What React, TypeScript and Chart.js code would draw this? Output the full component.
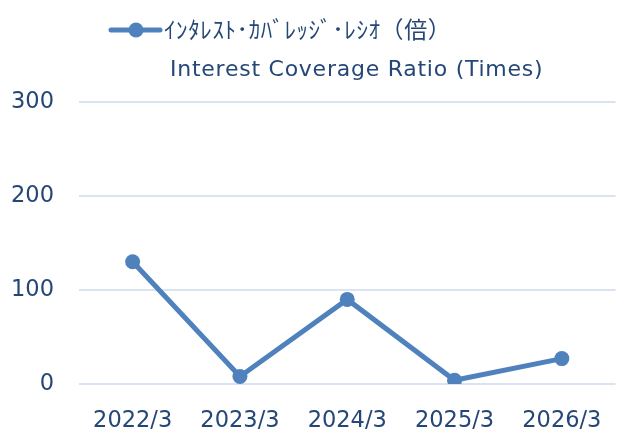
import React, { useEffect, useRef } from "react";
import { Chart, registerables } from "chart.js";
Chart.register(...registerables);

const categories = ["2022/3", "2023/3", "2024/3", "2025/3", "2026/3"];
const ratioValues = [130, 8, 90, 4, 27];
const yMin = 0;
const yMax = 300;
const yStep = 100;
const seriesLabel = "ｲﾝﾀﾚｽﾄ･ｶﾊﾞﾚｯｼﾞ･ﾚｼｵ（倍）";
const subtitleText = "Interest Coverage Ratio (Times)";

const LINE_COLOR = "#4F81BD";
const TEXT_COLOR = "#254777";
const GRID_COLOR = "#D9E3F2";

const headerPlugin = {
  id: "header",
  afterDraw(chart: any) {
    const ctx = chart.ctx;
    ctx.save();
    // legend marker
    ctx.strokeStyle = LINE_COLOR;
    ctx.lineWidth = 5;
    ctx.lineCap = "round";
    ctx.beginPath();
    ctx.moveTo(111, 30);
    ctx.lineTo(160, 30);
    ctx.stroke();
    ctx.fillStyle = LINE_COLOR;
    ctx.beginPath();
    ctx.arc(136, 30, 7.5, 0, Math.PI * 2);
    ctx.fill();
    // legend text
    ctx.fillStyle = TEXT_COLOR;
    ctx.textBaseline = "middle";
    ctx.textAlign = "left";
    ctx.font = "23px 'Noto Sans CJK JP'";
    (ctx as any).letterSpacing = "0.6px";
    ctx.fillText(seriesLabel, 164, 29);
    // subtitle
    ctx.font = "22px 'DejaVu Sans'";
    (ctx as any).letterSpacing = "0.75px";
    ctx.fillText(subtitleText, 170, 70);
    (ctx as any).letterSpacing = "0px";
    ctx.restore();
  },
};

export default function App() {
  const ref = useRef<HTMLCanvasElement | null>(null);
  useEffect(() => {
    document.body.style.margin = "0";
    const chart = new Chart(ref.current as HTMLCanvasElement, {
      type: "line",
      data: {
        labels: categories,
        datasets: [
          {
            label: seriesLabel,
            data: ratioValues,
            borderColor: LINE_COLOR,
            backgroundColor: LINE_COLOR,
            borderWidth: 5,
            pointRadius: 7.5,
            pointHoverRadius: 7.5,
            pointBackgroundColor: LINE_COLOR,
            pointBorderWidth: 0,
            tension: 0,
          },
        ],
      },
      options: {
        responsive: false,
        animation: false,
        layout: { padding: { top: 102, right: 7, left: 0, bottom: 0 } },
        plugins: {
          legend: { display: false },
          title: { display: false },
          tooltip: { enabled: false },
        },
        scales: {
          x: {
            offset: true,
            grid: { display: false },
            border: { display: false },
            ticks: {
              color: TEXT_COLOR,
              font: { family: "'DejaVu Sans'", size: 22.5 },
              padding: 16,
              maxRotation: 0,
            },
            afterFit: (s: any) => {
              s.height = 46;
            },
          },
          y: {
            min: yMin,
            max: yMax,
            grid: { color: GRID_COLOR, lineWidth: 2, drawTicks: false },
            border: { display: false },
            ticks: {
              stepSize: yStep,
              color: TEXT_COLOR,
              font: { family: "'DejaVu Sans'", size: 22.5 },
              padding: 25,
            },
            afterFit: (s: any) => {
              s.width = 79;
            },
          },
        },
      },
      plugins: [headerPlugin],
    });
    return () => chart.destroy();
  }, []);
  return (
    <div style={{ width: 623, height: 430 }}>
      <canvas ref={ref} width={623} height={430} />
    </div>
  );
}
